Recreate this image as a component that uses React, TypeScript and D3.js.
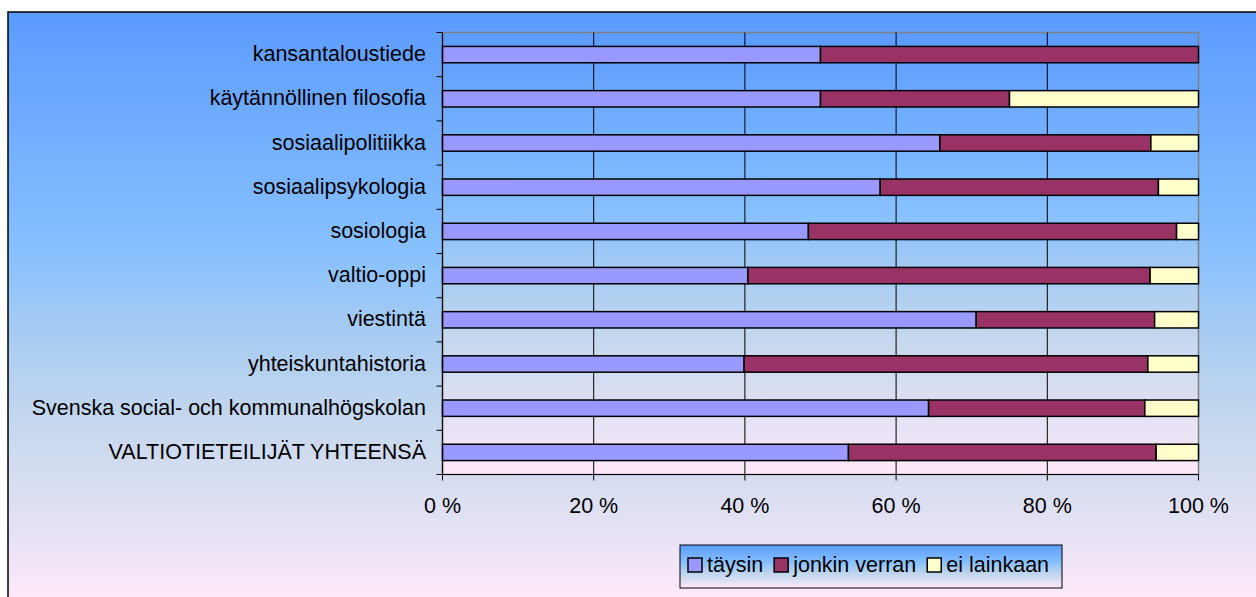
import React, { useMemo } from "react";
import * as d3 from "d3";

const categories = [
  "kansantaloustiede",
  "käytännöllinen filosofia",
  "sosiaalipolitiikka",
  "sosiaalipsykologia",
  "sosiologia",
  "valtio-oppi",
  "viestintä",
  "yhteiskuntahistoria",
  "Svenska social- och kommunalhögskolan",
  "VALTIOTIETEILIJÄT YHTEENSÄ",
];
const taysin = [50, 50, 65.8, 57.9, 48.4, 40.4, 70.6, 39.9, 64.3, 53.7];
const jonkinVerran = [50, 25, 27.9, 36.8, 48.7, 53.2, 23.6, 53.4, 28.6, 40.7];
const eiLainkaan = [0, 25, 6.3, 5.3, 2.9, 6.4, 5.8, 6.7, 7.1, 5.6];
const seriesNames = ["täysin", "jonkin verran", "ei lainkaan"];
const seriesColors = ["#9999FF", "#993366", "#FFFFCC"];
const xTicks = [0, 20, 40, 60, 80, 100];

const W = 1256;
const H = 597;
const FONT = "'Liberation Sans', Arial, sans-serif";
const FS = 21.5;

const gradStops: [number, string][] = [
  [0, "#5B9BFF"],
  [0.4, "#86C0FF"],
  [0.55, "#A8CCF2"],
  [0.7, "#C6D8EE"],
  [0.85, "#E0E0F3"],
  [1, "#FDE9F9"],
];

export default function App() {
  const plot = { left: 442.5, right: 1198.5, top: 32.5, bottom: 474.5 };

  const rows = categories.map((c, i) => ({
    cat: c,
    [seriesNames[0]]: taysin[i],
    [seriesNames[1]]: jonkinVerran[i],
    [seriesNames[2]]: eiLainkaan[i],
  }));
  const stacked = d3.stack<any>().keys(seriesNames)(rows);

  const x = d3.scaleLinear().domain([0, 100]).range([plot.left, plot.right]);
  const y = d3
    .scaleBand<string>()
    .domain(categories)
    .range([plot.top, plot.bottom])
    .paddingInner(0.63)
    .paddingOuter(0.315);
  const step = y.step();

  const widths = useMemo(() => {
    const ctx = document.createElement("canvas").getContext("2d");
    return seriesNames.map((s) => {
      if (!ctx) return s.length * 10;
      ctx.font = `${FS}px ${FONT}`;
      return ctx.measureText(s).width;
    });
  }, []);

  const legend = { x: 680, y: 545, w: 382, h: 43 };
  let cursor = legend.x + 8;
  const legendItems = seriesNames.map((s, i) => {
    const item = { name: s, color: seriesColors[i], sx: cursor, tx: cursor + 19 };
    cursor = cursor + 19 + widths[i] + 11;
    return item;
  });

  const stops = gradStops.map(([o, c], i) => (
    <stop key={i} offset={o} stopColor={c} />
  ));

  return (
    <svg
      width={W}
      height={H}
      style={{ position: "absolute", left: 0, top: 0, display: "block" }}
      fontFamily={FONT}
    >
      <defs>
        <linearGradient id="bgChart" gradientUnits="userSpaceOnUse" x1={0} y1={12} x2={0} y2={600}>
          {stops}
        </linearGradient>
        <linearGradient id="bgPlot" gradientUnits="userSpaceOnUse" x1={0} y1={plot.top} x2={0} y2={plot.bottom}>
          {stops}
        </linearGradient>
        <linearGradient id="bgLegend" x1={0} y1={0} x2={0} y2={1}>
          {stops}
        </linearGradient>
      </defs>
      <rect x={0} y={0} width={W} height={H} fill="#ffffff" />
      <rect x={8} y={12} width={1270} height={620} fill="url(#bgChart)" stroke="#000" strokeWidth={1.5} />

      {/* plot area */}
      <rect
        x={plot.left}
        y={plot.top}
        width={plot.right - plot.left}
        height={plot.bottom - plot.top}
        fill="url(#bgPlot)"
        stroke="#808080"
        strokeWidth={1.5}
      />

      {/* gridlines */}
      {xTicks.slice(1, -1).map((t) => (
        <line key={t} x1={x(t)} x2={x(t)} y1={plot.top} y2={plot.bottom} stroke="#000" strokeWidth={1} />
      ))}

      {/* bars */}
      {stacked.map((layer, si) => (
        <g key={layer.key}>
          {layer.map((d, i) =>
            d[1] - d[0] > 0 ? (
              <rect
                key={i}
                x={x(d[0])}
                y={y(categories[i])!}
                width={x(d[1]) - x(d[0])}
                height={y.bandwidth()}
                fill={seriesColors[si]}
                stroke="#000"
                strokeWidth={1.5}
              />
            ) : null
          )}
        </g>
      ))}

      {/* axes */}
      <line x1={plot.left} x2={plot.left} y1={plot.top} y2={plot.bottom} stroke="#000" strokeWidth={1.2} />
      <line x1={plot.left} x2={plot.right} y1={plot.bottom} y2={plot.bottom} stroke="#000" strokeWidth={1.2} />
      {d3.range(categories.length + 1).map((i) => (
        <line
          key={i}
          x1={plot.left - 6}
          x2={plot.left}
          y1={plot.top + i * step}
          y2={plot.top + i * step}
          stroke="#000"
          strokeWidth={1}
        />
      ))}
      {xTicks.map((t) => (
        <line key={t} x1={x(t)} x2={x(t)} y1={plot.bottom} y2={plot.bottom + 6} stroke="#000" strokeWidth={1} />
      ))}

      {/* category labels */}
      {categories.map((c) => (
        <text
          key={c}
          x={426}
          y={y(c)! + y.bandwidth() / 2 + 6.5}
          textAnchor="end"
          fontSize={FS}
          fill="#000"
        >
          {c}
        </text>
      ))}

      {/* x tick labels */}
      {xTicks.map((t) => (
        <text key={t} x={x(t)} y={513} textAnchor="middle" fontSize={FS} fill="#000">
          {`${t} %`}
        </text>
      ))}

      {/* legend */}
      <rect
        x={legend.x}
        y={legend.y}
        width={legend.w}
        height={legend.h}
        fill="url(#bgLegend)"
        stroke="#000"
        strokeWidth={1}
      />
      {legendItems.map((it) => (
        <g key={it.name}>
          <rect x={it.sx} y={558} width={14} height={14} fill={it.color} stroke="#000" strokeWidth={1.5} />
          <text x={it.tx} y={572} fontSize={FS} fill="#000">
            {it.name}
          </text>
        </g>
      ))}
    </svg>
  );
}
